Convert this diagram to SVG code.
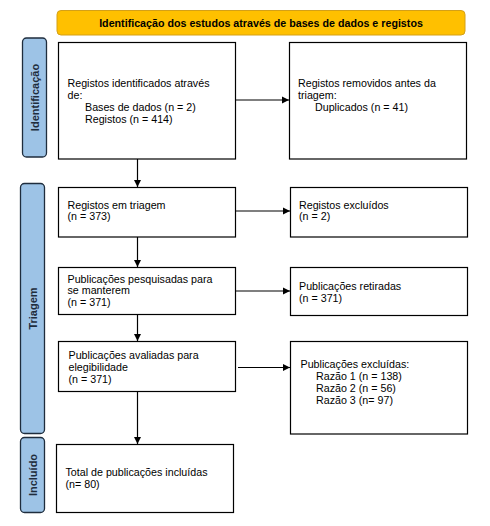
<svg xmlns="http://www.w3.org/2000/svg" width="490" height="526" viewBox="0 0 490 526">
<defs>
<marker id="ah" markerWidth="8" markerHeight="8" refX="7" refY="4" orient="auto" markerUnits="userSpaceOnUse">
<path d="M0,0.5 L7,4 L0,7.5 Z" fill="#000"/>
</marker>
</defs>
<style>
text{font-family:"Liberation Sans",Arial,sans-serif;font-size:10.7px;fill:#000}
.box{fill:#fff;stroke:#000;stroke-width:1.2}
.side{fill:#9DC3E6;stroke:#1F2D3D;stroke-width:1.3}
.sidet{font-weight:bold;fill:#1F2D3D;font-size:11px}
.hdr{fill:#FFC000;stroke:#D4A017;stroke-width:1}
.hdrt{font-weight:bold;font-size:10.7px}
.con{stroke:#000;stroke-width:1.2;fill:none;marker-end:url(#ah)}
</style>
<rect width="490" height="526" fill="#fff"/>
<g id="header">
<rect class="hdr" x="57" y="10.5" width="408" height="24.5" rx="4"/>
<text class="hdrt" x="261" y="26.5" text-anchor="middle">Identificação dos estudos através de bases de dados e registos</text>
</g>
<g id="side-identificacao">
<rect class="side" x="22.5" y="38" width="24" height="119" rx="4"/>
<text class="sidet" transform="translate(38.5,97.5) rotate(-90)" text-anchor="middle">Identificação</text>
</g>
<g id="side-triagem">
<rect class="side" x="20.5" y="183.5" width="24" height="250" rx="4"/>
<text class="sidet" transform="translate(36.5,308.5) rotate(-90)" text-anchor="middle">Triagem</text>
</g>
<g id="side-incluido">
<rect class="side" x="20.5" y="437.5" width="24" height="75" rx="4"/>
<text class="sidet" transform="translate(36.5,475) rotate(-90)" text-anchor="middle">Incluído</text>
</g>
<g id="n1">
<rect class="box" x="58.5" y="42.5" width="177" height="116.5"/>
<text x="67.5" y="86.5">Registos identificados através</text>
<text x="67.5" y="98.5">de:</text>
<text x="85" y="110.5">Bases de dados (n = 2)</text>
<text x="85" y="122.5">Registos (n = 414)</text>
</g>
<g id="n2">
<rect class="box" x="289.5" y="42.5" width="177" height="116.5"/>
<text x="298" y="86.5">Registos removidos antes da</text>
<text x="298" y="98.5">triagem:</text>
<text x="315" y="110.5">Duplicados (n = 41)</text>
</g>
<g id="n3">
<rect class="box" x="58.5" y="187.5" width="177" height="49.5"/>
<text x="67.5" y="208.5">Registos em triagem</text>
<text x="67.5" y="220">(n = 373)</text>
</g>
<g id="n4">
<rect class="box" x="290.5" y="187.5" width="177" height="49.5"/>
<text x="299" y="208.5">Registos excluídos</text>
<text x="299" y="220">(n = 2)</text>
</g>
<g id="n5">
<rect class="box" x="58.5" y="267.5" width="177" height="47"/>
<text x="67.5" y="282.5">Publicações pesquisadas para</text>
<text x="67.5" y="294">se manterem</text>
<text x="67.5" y="306">(n = 371)</text>
</g>
<g id="n6">
<rect class="box" x="290.5" y="267.5" width="177" height="48"/>
<text x="299" y="289.5">Publicações retiradas</text>
<text x="299" y="301.5">(n = 371)</text>
</g>
<g id="n7">
<rect class="box" x="58.5" y="341.5" width="177" height="50"/>
<text x="68.5" y="358.5">Publicações avaliadas para</text>
<text x="68.5" y="370.5">elegibilidade</text>
<text x="68.5" y="382.5">(n = 371)</text>
</g>
<g id="n8">
<rect class="box" x="290.5" y="341.5" width="177" height="92.5"/>
<text x="300.5" y="368">Publicações excluídas:</text>
<text x="316" y="380">Razão 1 (n = 138)</text>
<text x="316" y="392">Razão 2 (n = 56)</text>
<text x="316" y="404">Razão 3 (n= 97)</text>
</g>
<g id="n9">
<rect class="box" x="56.5" y="444.5" width="177" height="68"/>
<text x="65.5" y="475.5">Total de publicações incluídas</text>
<text x="65.5" y="488">(n= 80)</text>
</g>
<g id="connectors">
<line class="con" x1="236" y1="100" x2="289" y2="100"/>
<line class="con" x1="137.5" y1="159" x2="137.5" y2="187"/>
<line class="con" x1="236" y1="211" x2="290" y2="211"/>
<line class="con" x1="137.5" y1="237" x2="137.5" y2="267"/>
<line class="con" x1="236" y1="291" x2="290" y2="291"/>
<line class="con" x1="137.5" y1="314.5" x2="137.5" y2="341"/>
<line class="con" x1="238" y1="367.5" x2="290" y2="367.5"/>
<line class="con" x1="137.5" y1="392" x2="137.5" y2="444"/>
</g>
</svg>
